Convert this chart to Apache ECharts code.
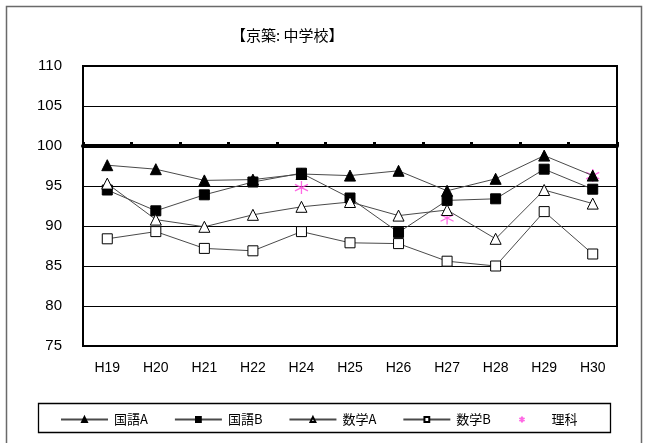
<!DOCTYPE html>
<html>
<head>
<meta charset="utf-8">
<script src="https://cdn.jsdelivr.net/npm/echarts@6/dist/echarts.min.js"></script>
<style>
  html, body { margin: 0; padding: 0; background: #fff; }
  #chart { width: 646px; height: 443px; }
</style>
</head>
<body>
<div id="chart"></div>
<script>
// Survey years and average scores (national = 100)
const years = ['H19', 'H20', 'H21', 'H22', 'H24', 'H25', 'H26', 'H27', 'H28', 'H29', 'H30'];
const kokugoA = [97.6, 97.1, 95.7, 95.8, 96.5, 96.3, 96.9, 94.4, 95.9, 98.8, 96.3];
const kokugoB = [94.5, 91.9, 93.9, 95.5, 96.6, 93.5, 89.2, 93.2, 93.4, 97.1, 94.6];
const sugakuA = [95.3, 90.8, 89.9, 91.4, 92.4, 93.0, 91.3, 92.0, 88.4, 94.5, 92.8];
const sugakuB = [88.4, 89.3, 87.2, 86.9, 89.3, 87.9, 87.8, 85.6, 85.0, 91.8, 86.5];
const rika    = [null, null, null, null, 94.8, null, null, 91.0, null, null, 96.3];
const yTicks = { min: 75, max: 110, step: 5 };

const starPath = 'path://M5,0 L5,10 M0.7,2.5 L9.3,7.5 M0.7,7.5 L9.3,2.5';
const numFont = '"Liberation Sans", Arial, sans-serif';
const jpFont = '"Noto Sans CJK JP", sans-serif';

const chart = echarts.init(document.getElementById('chart'), null, { renderer: 'canvas' });

function lineSeries(name, data, symbol, size, filled) {
  return {
    name: name,
    type: 'line',
    data: data,
    symbol: symbol,
    symbolSize: size,
    showAllSymbol: true,
    xAxisIndex: 0,
    lineStyle: { color: '#4a4a4a', width: 1 },
    itemStyle: {
      color: filled ? '#000' : '#fff',
      borderColor: '#000',
      borderWidth: 1
    },
    emphasis: { disabled: true },
    animation: false
  };
}

chart.setOption({
  animation: false,
  backgroundColor: '#fff',
  title: {
    text: '【京築: 中学校】',
    left: 226,
    top: 23,
    textStyle: { fontFamily: jpFont, fontSize: 15, fontWeight: 'normal', color: '#000' }
  },
  graphic: [
    {
      type: 'rect',
      shape: { x: 6.5, y: 6.5, width: 635, height: 460 },
      style: { fill: 'none', stroke: '#6a6a6a', lineWidth: 1.5 },
      silent: true, z: -10
    },
    {
      type: 'rect',
      shape: { x: 38.5, y: 403.5, width: 572, height: 29 },
      style: { fill: '#fff', stroke: '#000', lineWidth: 1.3 },
      silent: true, z: -5
    }
  ],
  grid: {
    left: 83, top: 66, width: 534, height: 280,
    show: true, borderColor: '#000', borderWidth: 2, backgroundColor: 'transparent'
  },
  xAxis: [
    {
      type: 'category',
      data: years,
      position: 'bottom',
      boundaryGap: true,
      axisLine: { show: false },
      axisTick: { show: false },
      axisLabel: { fontFamily: numFont, fontSize: 14, color: '#000', margin: 15, interval: 0 }
    },
    {
      // reference line at 100 with tick marks between categories
      type: 'category',
      data: years,
      position: 'top',
      offset: -80,
      boundaryGap: true,
      axisLine: { show: true, lineStyle: { color: '#000', width: 4 } },
      axisTick: { show: true, inside: false, length: 4, lineStyle: { color: '#000', width: 3 } },
      axisLabel: { show: false },
      splitLine: { show: false }
    }
  ],
  yAxis: {
    type: 'value',
    min: yTicks.min,
    max: yTicks.max,
    interval: yTicks.step,
    axisLine: { show: false },
    axisTick: { show: false },
    axisLabel: { fontFamily: numFont, fontSize: 15, color: '#000', margin: 21 },
    splitLine: { show: true, lineStyle: { color: '#000', width: 1 } }
  },
  legend: {
    left: 60,
    top: 413,
    padding: 0,
    itemWidth: 47,
    itemHeight: 6,
    itemGap: 26,
    selectedMode: false,
    textStyle: { fontFamily: jpFont, fontSize: 13, color: '#000', padding: [0, 0, 0, 1] },
    data: ['国語A', '国語B', '数学A', '数学B', { name: '理科', icon: starPath }]
  },
  series: [
    lineSeries('国語A', kokugoA, 'triangle', 11, true),
    lineSeries('国語B', kokugoB, 'rect', 10, true),
    lineSeries('数学A', sugakuA, 'triangle', 11, false),
    lineSeries('数学B', sugakuB, 'rect', 10, false),
    {
      name: '理科',
      type: 'scatter',
      data: rika,
      xAxisIndex: 0,
      symbol: starPath,
      symbolSize: 13,
      itemStyle: { color: 'none', borderColor: '#ff44dd', borderWidth: 1.3 },
      emphasis: { disabled: true },
      animation: false
    }
  ]
});
</script>
</body>
</html>
